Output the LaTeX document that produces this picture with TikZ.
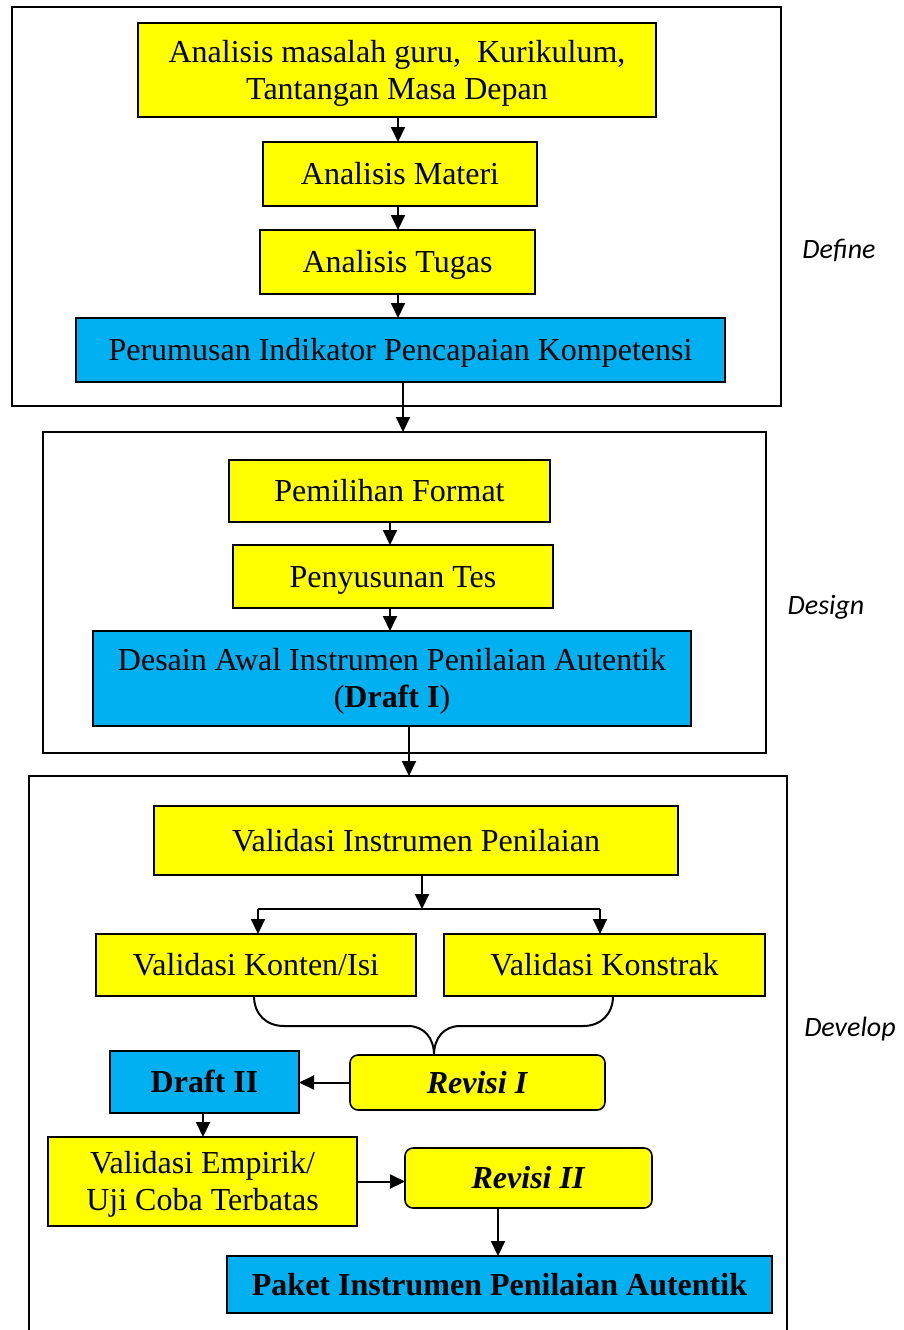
\documentclass[tikz,border=0pt]{standalone}
\usepackage{fontspec}
\setmainfont{Liberation Serif}
\newfontfamily\lblfont{Carlito}
\usetikzlibrary{arrows.meta}
\definecolor{boxyellow}{HTML}{FFFF00}
\definecolor{boxblue}{HTML}{00B0F0}
\begin{document}
\begin{tikzpicture}[x=1pt,y=-1pt,
  every node/.style={inner sep=0pt,outer sep=0pt},
  boxbase/.style={draw=black,line width=1.6pt,align=center,font=\fontsize{32}{37}\selectfont,text height=28.5pt,text depth=6.9pt},
  twoline/.style={text height=65.5pt},
  ybox/.style={boxbase,fill=boxyellow},
  bbox/.style={boxbase,fill=boxblue},
  frame/.style={draw=black,line width=1.6pt},
  conn/.style={draw=black,line width=2pt,-{Triangle[length=15pt,width=14pt]}},
  plain/.style={draw=black,line width=2pt},
  stagelabel/.style={font=\lblfont\itshape\fontsize{28}{32}\selectfont}]
\useasboundingbox (0,0) rectangle (903,1330);
\clip (0,0) rectangle (903,1330);
% frames
\node[frame,minimum width=769pt,minimum height=399pt] (defineframe) at (396.5,206.5) {};
\node[frame,minimum width=723pt,minimum height=321pt] (designframe) at (404.5,592.5) {};
\node[frame,minimum width=758pt,minimum height=580pt] (developframe) at (408,1066) {};
% define stage
\node[ybox,twoline,minimum width=518pt,minimum height=94pt] (b1) at (397,70) {Analisis masalah guru,\ \ Kurikulum,\\Tantangan Masa Depan};
\node[ybox,minimum width=274pt,minimum height=64pt] (b2) at (400,174) {Analisis Materi};
\node[ybox,minimum width=275pt,minimum height=64pt] (b3) at (397.5,262) {Analisis Tugas};
\node[bbox,minimum width=649pt,minimum height=64pt] (b4) at (400.5,350) {Perumusan Indikator Pencapaian Kompetensi};
\node[stagelabel] (ldefine) at (839,250) {Define};
% design stage
\node[ybox,minimum width=321pt,minimum height=62pt] (d1) at (389.5,491) {Pemilihan Format};
\node[ybox,minimum width=320pt,minimum height=63pt] (d2) at (393,576.5) {Penyusunan Tes};
\node[bbox,twoline,minimum width=598pt,minimum height=95pt] (d3) at (392,678.5) {Desain Awal Instrumen Penilaian Autentik\\(\textbf{Draft I})};
\node[stagelabel] (ldesign) at (826,607) {Design};
% develop stage
\node[ybox,minimum width=524pt,minimum height=69pt] (v1) at (416,840.5) {Validasi Instrumen Penilaian};
\node[ybox,minimum width=320pt,minimum height=62pt] (vk) at (256,965) {Validasi Konten/Isi};
\node[ybox,minimum width=321pt,minimum height=62pt] (vs) at (604.5,965) {Validasi Konstrak};
\node[ybox,rounded corners=8pt,minimum width=255pt,minimum height=55pt] (r1) at (477.5,1082.5) {\textbf{\textit{Revisi I}}};
\node[bbox,minimum width=189pt,minimum height=62pt] (dr2) at (204.5,1082) {\textbf{Draft II}};
\node[ybox,twoline,minimum width=309pt,minimum height=89pt] (ve) at (202.5,1181.5) {Validasi Empirik/\\Uji Coba Terbatas};
\node[ybox,rounded corners=8pt,minimum width=247pt,minimum height=60pt] (r2) at (528.5,1178) {\textbf{\textit{Revisi II}}};
\node[bbox,minimum width=545pt,minimum height=57pt] (pk) at (499.5,1284.5) {\textbf{Paket Instrumen Penilaian Autentik}};
\node[stagelabel] (ldevelop) at (850,1029) {Develop};
% connectors define
\draw[conn] (b1.south -| 398,0) -- (b2.north -| 398,0);
\draw[conn] (b2.south -| 398,0) -- (b3.north -| 398,0);
\draw[conn] (b3.south -| 398,0) -- (b4.north -| 398,0);
\draw[conn] (b4.south -| 403,0) -- (designframe.north -| 403,0);
% connectors design
\draw[conn] (d1.south -| 390,0) -- (d2.north -| 390,0);
\draw[conn] (d2.south -| 390,0) -- (d3.north -| 390,0);
\draw[conn] (d3.south -| 409,0) -- (developframe.north -| 409,0);
% connectors develop
\coordinate (split) at (422,909);
\coordinate (splitl) at (258,909);
\coordinate (splitr) at (600,909);
\draw[conn] (v1.south -| split) -- (split);
\draw[plain] (splitl) -- (splitr);
\draw[conn] (splitl) -- (vk.north -| splitl);
\draw[conn] (splitr) -- (vs.north -| splitr);
\coordinate (jn) at (434,1055);
\draw[plain] (vk.south -| 254,0) .. controls (254,1014) and (266,1026) .. (284,1026) -- (408,1026) .. controls (424,1026) and (434,1038) .. (jn);
\draw[plain] (vs.south -| 613,0) .. controls (613,1014) and (601,1026) .. (583,1026) -- (460,1026) .. controls (444,1026) and (434,1038) .. (jn);
\draw[conn] (r1.west) -- (dr2.east |- r1.west);
\draw[conn] (dr2.south -| 203,0) -- (ve.north -| 203,0);
\draw[conn] (ve.east) -- (ve.east -| r2.west);
\draw[conn] (r2.south -| 498,0) -- (pk.north -| 498,0);
\end{tikzpicture}
\end{document}
